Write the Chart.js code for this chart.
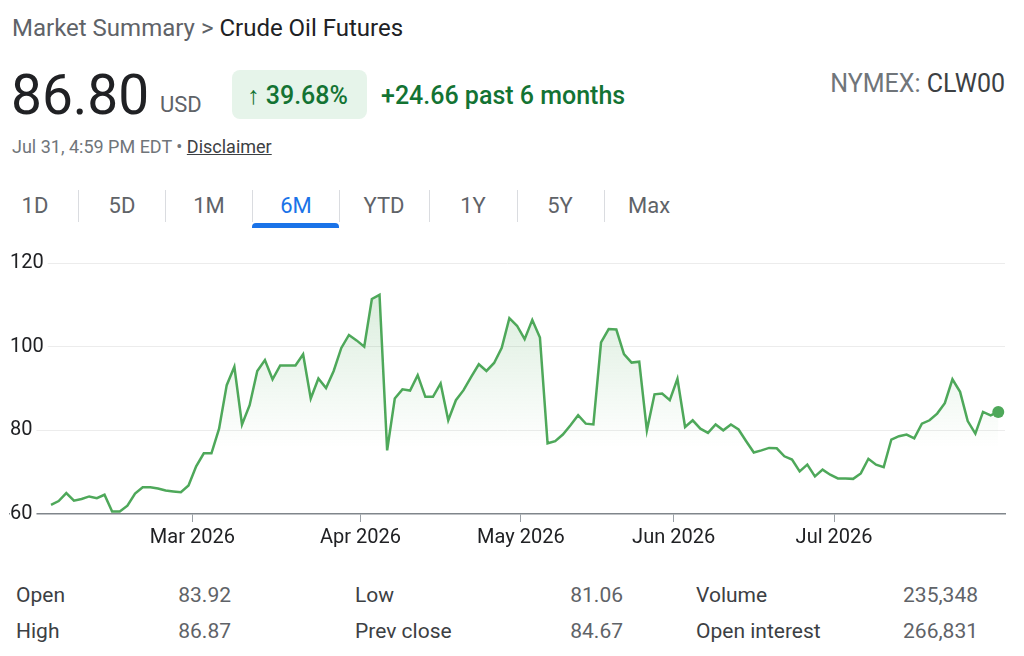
<!DOCTYPE html>
<html><head><meta charset="utf-8">
<script src="https://cdn.jsdelivr.net/npm/chart.js@4.4.1/dist/chart.umd.min.js"></script>
<style>
html,body{margin:0;padding:0;background:#fff;width:1024px;height:656px;overflow:hidden;font-family:Roboto,Arial,sans-serif;}
.a{position:absolute;white-space:nowrap;line-height:1;}
.tab{position:absolute;top:195px;font-size:22px;color:#5f6368;transform:translateX(-50%);line-height:1;}
.sep{position:absolute;top:190px;width:1px;height:32px;background:#dadce0;}
.lab{position:absolute;font-size:21px;color:#3c4043;line-height:1;}
.val{position:absolute;font-size:21px;color:#5f6368;line-height:1;text-align:right;}
</style></head><body>
<div class="a" style="left:12px;top:16px;font-size:24px;color:#5f6368;">Market Summary &gt; <span style="color:#202124">Crude Oil Futures</span></div>
<div class="a" style="left:11px;top:68px;font-size:55px;color:#202124;">86.80</div>
<div class="a" style="left:160px;top:94px;font-size:22px;color:#5f6368;">USD</div>
<div style="position:absolute;left:232px;top:70px;width:135px;height:49px;border-radius:8px;background:#e6f4ea;"></div>
<div class="a" style="left:247px;top:83px;font-size:25px;font-weight:500;color:#137333;">↑ 39.68%</div>
<div class="a" style="left:381px;top:83px;font-size:25px;font-weight:500;color:#137333;">+24.66 past 6 months</div>
<div class="a" style="right:19px;top:71px;font-size:25px;color:#70757a;">NYMEX: <span style="color:#3c4043">CLW00</span></div>
<div class="a" style="left:12px;top:138px;font-size:18px;color:#70757a;">Jul 31, 4:59 PM EDT • <span style="text-decoration:underline;color:#3c4043">Disclaimer</span></div>

<div class="tab" style="left:35px">1D</div>
<div class="sep" style="left:78px"></div>
<div class="tab" style="left:122px">5D</div>
<div class="sep" style="left:165px"></div>
<div class="tab" style="left:209px">1M</div>
<div class="sep" style="left:252px"></div>
<div class="tab" style="left:296px;color:#1a73e8">6M</div>
<div class="sep" style="left:339px"></div>
<div class="tab" style="left:384px">YTD</div>
<div class="sep" style="left:429px"></div>
<div class="tab" style="left:473px">1Y</div>
<div class="sep" style="left:517px"></div>
<div class="tab" style="left:560px">5Y</div>
<div class="sep" style="left:604px"></div>
<div class="tab" style="left:649px">Max</div>
<div style="position:absolute;left:252px;top:223px;width:87px;height:5px;background:#1a73e8;border-radius:4px 4px 0 0;"></div>

<div id="wrap" style="position:absolute;left:0;top:245px;width:1024px;height:310px;"><canvas id="c"></canvas></div>

<div class="lab" style="left:16px;top:585px">Open</div>
<div class="val" style="right:793px;top:585px">83.92</div>
<div class="lab" style="left:355px;top:585px">Low</div>
<div class="val" style="right:401px;top:585px">81.06</div>
<div class="lab" style="left:696px;top:585px">Volume</div>
<div class="val" style="right:46px;top:585px">235,348</div>
<div class="lab" style="left:16px;top:621px">High</div>
<div class="val" style="right:793px;top:621px">86.87</div>
<div class="lab" style="left:355px;top:621px">Prev close</div>
<div class="val" style="right:401px;top:621px">84.67</div>
<div class="lab" style="left:696px;top:621px">Open interest</div>
<div class="val" style="right:46px;top:621px">266,831</div>

<script>
// Trading days per month (2026)
const febDays = [2,3,4,5,6,9,10,11,12,13,17,18,19,20,23,24,25,26,27];
const marDays = [2,3,4,5,6,9,10,11,12,13,16,17,18,19,20,23,24,25,26,27,30,31];
const aprDays = [1,2,6,7,8,9,10,13,14,15,16,17,20,21,22,23,24,27,28,29,30];
const mayDays = [1,4,5,6,7,8,11,12,13,14,15,18,19,20,21,22,26,27,28,29];
const junDays = [1,2,3,4,5,8,9,10,11,12,15,16,17,18,22,23,24,25,26,29,30];
const julDays = [1,2,6,7,8,9,10,13,14,15,16,17,20,21,22,23,24,27,28,29,30,31];

// Closing prices (USD)
const febClose = [62.2,63.1,65.0,63.2,63.6,64.2,63.8,64.6,60.6,60.6,62.0,64.9,66.4,66.4,66.1,65.6,65.4,65.2,66.8];
const marClose = [71.4,74.5,74.5,80.4,90.8,95.2,81.4,86.0,94.2,96.8,92.2,95.5,95.5,95.5,98.2,87.6,92.4,90.1,94.2,99.7,102.8,101.5];
const aprClose = [100.0,111.4,112.4,75.2,87.6,89.8,89.5,93.2,88.0,88.0,91.2,82.4,87.2,89.6,92.8,95.8,94.2,96.1,99.7,106.8,105.0];
const mayClose = [101.8,106.4,102.2,76.9,77.4,79.0,81.2,83.6,81.6,81.4,101.0,104.2,104.1,98.2,96.2,96.4,80.0,88.6,88.8,87.2];
const junClose = [92.3,80.8,82.4,80.4,79.4,81.4,80.0,81.4,80.2,77.4,74.7,75.2,75.8,75.7,73.8,73.0,70.2,71.8,69.0,70.6,69.4];
const julClose = [68.5,68.5,68.4,69.7,73.2,71.8,71.2,77.8,78.6,79.0,78.1,81.6,82.4,84.0,86.5,92.2,89.2,82.2,79.2,84.4,83.6,84.4];

const monthNames = ['Feb','Mar','Apr','May','Jun','Jul'];
const tickLabels = ['Mar 2026','Apr 2026','May 2026','Jun 2026','Jul 2026'];
const yTicks = [60,80,100,120];

const monthDays = [febDays,marDays,aprDays,mayDays,junDays,julDays];
const monthClose = [febClose,marClose,aprClose,mayClose,junClose,julClose];

const dates = [], values = [], tickPos = [], tickText = [];
monthDays.forEach((days, mi) => {
  if (mi > 0) { tickPos.push(values.length - 0.5); tickText.push(tickLabels[mi-1]); }
  days.forEach((d, di) => { dates.push(monthNames[mi] + ' ' + d); values.push(monthClose[mi][di]); });
});
const points = values.map((v, i) => ({x: i, y: v}));
const lastIdx = values.length - 1;
const green = '#4ea85a';

new Chart(document.getElementById('c'), {
  type: 'line',
  data: {
    datasets: [{
      data: points,
      borderColor: green,
      borderWidth: 2.5,
      tension: 0,
      fill: 'start',
      backgroundColor: (ctx) => {
        const chart = ctx.chart; const ca = chart.chartArea;
        if (!ca) return 'rgba(0,0,0,0)';
        const y = chart.scales.y;
        const g = chart.ctx.createLinearGradient(0, y.getPixelForValue(112), 0, y.getPixelForValue(76));
        g.addColorStop(0, 'rgba(78,168,90,0.20)');
        g.addColorStop(1, 'rgba(78,168,90,0)');
        return g;
      },
      pointRadius: (ctx) => ctx.dataIndex === lastIdx ? 6 : 0,
      pointHoverRadius: 0,
      pointBackgroundColor: green,
      pointBorderWidth: 0
    }]
  },
  options: {
    responsive: true,
    maintainAspectRatio: false,
    animation: false,
    layout: { padding: { left: 10, right: 19, top: 18, bottom: 1 } },
    plugins: { legend: { display: false }, tooltip: { enabled: false } },
    scales: {
      x: {
        type: 'linear',
        z: -1,
        min: -5.37,
        max: 124.88,
        afterBuildTicks: (scale) => { scale.ticks = tickPos.map(v => ({ value: v })); },
        ticks: {
          autoSkip: false, maxRotation: 0, padding: 4,
          color: '#202124', font: { family: 'Roboto', size: 20 },
          callback: (value) => { const i = tickPos.indexOf(value); return i >= 0 ? tickText[i] : ''; }
        },
        grid: { drawOnChartArea: false, drawTicks: true, tickLength: 8, color: '#9aa0a6', lineWidth: 1 },
        border: { display: true, color: '#80868b', width: 1.5 }
      },
      y: {
        min: 60, max: 120,
        afterBuildTicks: (scale) => { scale.ticks = yTicks.map(v => ({ value: v })); },
        ticks: {
          mirror: true, padding: 0,
          color: '#202124', font: { family: 'Roboto', size: 20 },
          showLabelBackdrop: true, backdropColor: '#ffffff',
          backdropPadding: { left: 0, right: 4, top: 2, bottom: 2 }
        },
        grid: {
          drawTicks: false,
          color: (ctx) => ctx.tick && ctx.tick.value === 60 ? 'rgba(0,0,0,0)' : '#ececec',
          lineWidth: 1
        },
        border: { display: false }
      }
    }
  }
});
</script>
</body></html>
